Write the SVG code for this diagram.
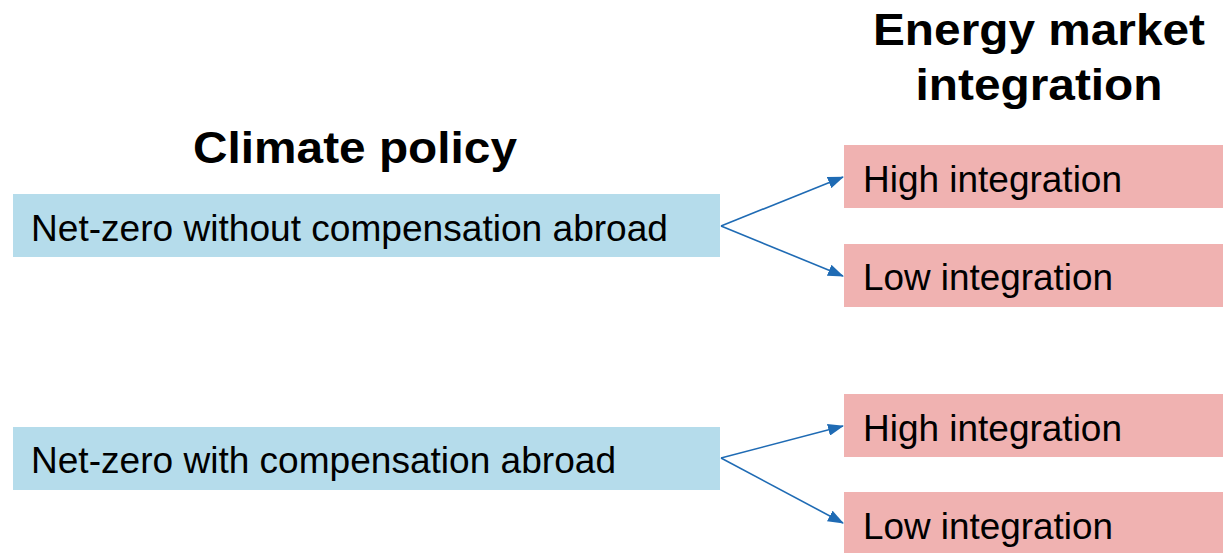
<svg xmlns="http://www.w3.org/2000/svg" width="1223" height="553" viewBox="0 0 1223 553">
<defs>
<style>
.blue{fill:#B5DCEB}
.pink{fill:#F0B2B1}
.lbl{font-family:"Liberation Sans",Arial,sans-serif;font-size:36px;fill:#000}
.ttl{font-family:"Liberation Sans",Arial,sans-serif;font-size:45px;font-weight:bold;fill:#000;text-anchor:middle}
.con{stroke:#1F6BB4;stroke-width:1.6;fill:none;marker-end:url(#ah)}
</style>
<marker id="ah" markerWidth="16" markerHeight="12" refX="15" refY="6" orient="auto" markerUnits="userSpaceOnUse" viewBox="0 0 16 12">
<path d="M0,0 L16,6 L0,12 Z" fill="#1F6BB4"/>
</marker>
</defs>
<rect width="1223" height="553" fill="#fff"/>
<g id="title-climate"><text class="ttl" x="355" y="163" textLength="324" lengthAdjust="spacingAndGlyphs">Climate policy</text></g>
<g id="title-energy"><text class="ttl" x="1039" y="45" textLength="332" lengthAdjust="spacingAndGlyphs">Energy market</text><text class="ttl" x="1039" y="100" textLength="247" lengthAdjust="spacingAndGlyphs">integration</text></g>
<g id="n1"><rect class="blue" x="13" y="194" width="707" height="63"/><text class="lbl" x="31" y="241" textLength="637" lengthAdjust="spacingAndGlyphs">Net-zero without compensation abroad</text></g>
<g id="n2"><rect class="blue" x="13" y="427" width="707" height="63"/><text class="lbl" x="31" y="473" textLength="585" lengthAdjust="spacingAndGlyphs">Net-zero with compensation abroad</text></g>
<g id="n3"><rect class="pink" x="844" y="145" width="379" height="63"/><text class="lbl" x="863" y="192" textLength="259" lengthAdjust="spacingAndGlyphs">High integration</text></g>
<g id="n4"><rect class="pink" x="844" y="244" width="379" height="63"/><text class="lbl" x="863" y="290" textLength="250" lengthAdjust="spacingAndGlyphs">Low integration</text></g>
<g id="n5"><rect class="pink" x="844" y="394" width="379" height="63"/><text class="lbl" x="863" y="441" textLength="259" lengthAdjust="spacingAndGlyphs">High integration</text></g>
<g id="n6"><rect class="pink" x="844" y="492" width="379" height="61"/><text class="lbl" x="863" y="539" textLength="250" lengthAdjust="spacingAndGlyphs">Low integration</text></g>
<g id="connectors">
<line class="con" x1="721" y1="226" x2="843" y2="177"/>
<line class="con" x1="721" y1="226" x2="843" y2="276"/>
<line class="con" x1="721" y1="458" x2="843" y2="426"/>
<line class="con" x1="721" y1="458" x2="843" y2="523"/>
</g>
</svg>
